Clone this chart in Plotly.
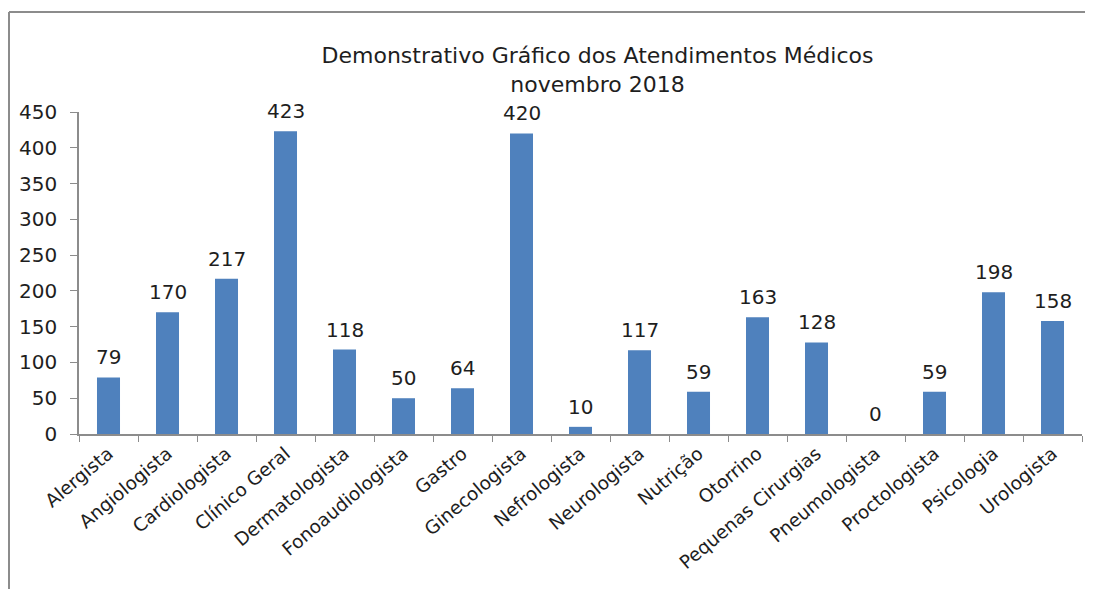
import plotly.graph_objects as go

categories = ["Alergista", "Angiologista", "Cardiologista", "Clínico Geral", "Dermatologista",
              "Fonoaudiologista", "Gastro", "Ginecologista", "Nefrologista", "Neurologista",
              "Nutrição", "Otorrino", "Pequenas Cirurgias", "Pneumologista", "Proctologista",
              "Psicologia", "Urologista"]
values = [79, 170, 217, 423, 118, 50, 64, 420, 10, 117, 59, 163, 128, 0, 59, 198, 158]
y_ticks = [0, 50, 100, 150, 200, 250, 300, 350, 400, 450]

FONT = "DejaVu Sans"
TXT = "#1e1e1e"
AXC = "#8c8c8c"

# figure sized to fit within the page body margin (8px)
W, H = 1085, 581
ML, MR, MT, MB = 71, 11, 104, 155
PW = W - ML - MR
PH = H - MT - MB

fig = go.Figure(go.Bar(
    x=categories, y=values,
    marker=dict(color="#4f81bd", line=dict(color="#4f81bd", width=0)),
))

annotations = [
    dict(x=c, y=v, xref="x", yref="y", text=str(v), showarrow=False,
         yanchor="bottom", yshift=6, font=dict(family=FONT, size=20, color=TXT))
    for c, v in zip(categories, values)
]

fig.update_layout(
    width=W, height=H,
    margin=dict(l=ML, r=MR, t=MT, b=MB, autoexpand=False),
    paper_bgcolor="white", plot_bgcolor="white",
    bargap=0.61,
    showlegend=False,
    title=dict(text="Demonstrativo Gráfico dos Atendimentos Médicos<br>novembro 2018",
               x=589.5 / W, xanchor="center", y=1 - 55 / H, yanchor="top", yref="container",
               font=dict(family=FONT, size=22, color=TXT), automargin=False),
    font=dict(family=FONT, size=20, color=TXT),
    xaxis=dict(tickangle=-40, showline=True, linecolor=AXC, linewidth=1.5,
               ticks="outside", ticklen=6, tickcolor=AXC, tickson="boundaries",
               showgrid=False, automargin=False,
               tickfont=dict(family=FONT, size=18.5, color=TXT)),
    yaxis=dict(range=[0, 450], tickvals=y_ticks, showline=True, linecolor=AXC, linewidth=1.5,
               ticks="outside", ticklen=7, tickcolor=AXC, showgrid=False, zeroline=False,
               ticklabelstandoff=9, automargin=False,
               tickfont=dict(family=FONT, size=20, color=TXT)),
    annotations=annotations,
    shapes=[
        dict(type="line", xref="paper", yref="paper",
             x0=(1 - ML) / PW, x1=(W + 5 - ML) / PW,
             y0=(H - MB - 4) / PH, y1=(H - MB - 4) / PH,
             line=dict(color=AXC, width=2)),
        dict(type="line", xref="paper", yref="paper",
             x0=(1 - ML) / PW, x1=(1 - ML) / PW,
             y0=(H - MB - 4) / PH, y1=(-MB - 10) / PH,
             line=dict(color=AXC, width=2)),
    ],
)

fig.write_html("out.html")
